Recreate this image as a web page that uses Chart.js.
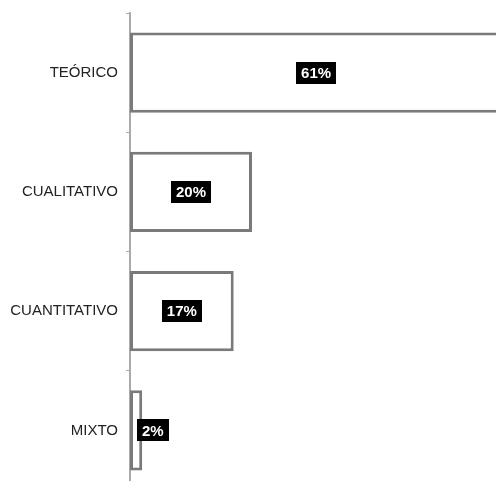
<!DOCTYPE html>
<html>
<head>
<meta charset="utf-8">
<script src="https://cdn.jsdelivr.net/npm/chart.js@4"></script>
<style>
  html, body { margin: 0; padding: 0; background: #fff; overflow: hidden; }
  #divGrafico { width: 496px; height: 500px; }
</style>
</head>
<body>
<div id="divGrafico"><canvas id="grafico" width="496" height="500"></canvas></div>
<script>
const categorias = ['TEÓRICO', 'CUALITATIVO', 'CUANTITATIVO', 'MIXTO'];
const porcentajes = [61, 20, 17, 2];

// etiqueta negra con texto blanco dentro de cada barra
const etiquetasPlugin = {
    id: 'etiquetas',
    afterDatasetsDraw(chart) {
        const ctx = chart.ctx;
        const meta = chart.getDatasetMeta(0);
        ctx.save();
        ctx.font = 'bold 15px "Liberation Sans", Arial, sans-serif';
        ctx.textAlign = 'center';
        ctx.textBaseline = 'middle';
        meta.data.forEach((barra, i) => {
            const texto = porcentajes[i] + '%';
            const ancho = ctx.measureText(texto).width + 10;
            const alto = 22;
            let x = (barra.x + barra.base) / 2;
            x = Math.max(x, barra.base + ancho / 2 + 7);
            const y = barra.y;
            ctx.fillStyle = '#000';
            ctx.fillRect(Math.round(x - ancho / 2), Math.round(y - alto / 2), Math.round(ancho), alto);
            ctx.fillStyle = '#fff';
            ctx.fillText(texto, x, y + 1);
        });
        ctx.restore();
    }
};

var contexto = document.getElementById('grafico').getContext('2d');
var grafico = new Chart(contexto, {
    type: 'bar',
    data: {
        labels: categorias,
        datasets: [{
            data: porcentajes,
            backgroundColor: '#ffffff',
            borderColor: '#7a7a7a',
            borderWidth: 3,
            borderSkipped: false,
            categoryPercentage: 0.675,
            barPercentage: 1
        }]
    },
    options: {
        indexAxis: 'y',
        responsive: false,
        animation: false,
        layout: { padding: { top: 13, bottom: 10, left: 0, right: 0 } },
        plugins: {
            legend: { display: false },
            tooltip: { enabled: false }
        },
        scales: {
            x: {
                display: false,
                min: 0,
                max: 60
            },
            y: {
                afterFit: (scale) => {
                    scale.width = 130;
                    scale.paddingTop = 0;
                    scale.paddingBottom = 0;
                },
                border: { display: true, color: '#aaaaaa', width: 2 },
                grid: {
                    offset: true,
                    drawOnChartArea: false,
                    drawTicks: true,
                    tickLength: 4,
                    color: '#aaaaaa',
                    lineWidth: 1
                },
                ticks: {
                    color: '#222',
                    padding: 8,
                    font: { family: '"Liberation Sans", Arial, sans-serif', size: 15 }
                }
            }
        }
    },
    plugins: [etiquetasPlugin]
});
</script>
</body>
</html>
